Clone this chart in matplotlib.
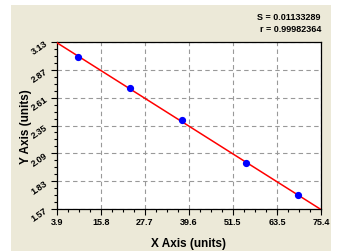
import numpy as np
import matplotlib
matplotlib.use("Agg")
import matplotlib.pyplot as plt
from matplotlib.patches import Rectangle
from matplotlib.ticker import AutoMinorLocator

x_vals = [9.5, 23.7, 37.9, 55.0, 69.3]
y_vals = [2.993, 2.698, 2.397, 1.996, 1.701]
x_ticks = [3.9, 15.8, 27.7, 39.6, 51.5, 63.5, 75.4]
y_ticks = [1.57, 1.83, 2.09, 2.35, 2.61, 2.87, 3.13]
stat_lines = ["S = 0.01133289", "r = 0.99982364"]

plt.rcParams['font.family'] = ['Liberation Sans', 'DejaVu Sans']

fig = plt.figure(figsize=(3.53, 2.53), dpi=100)
fig.patch.set_facecolor('white')
fig.patches.append(Rectangle((0.031, 0.004), 0.907, 0.972, transform=fig.transFigure,
                             facecolor='#ECE9D8', edgecolor='none', zorder=-10))

ax = fig.add_axes([0.161, 0.170, 0.748, 0.660])
ax.set_facecolor('white')

coef = np.polyfit(x_vals, y_vals, 1)
xl = np.array([x_ticks[0], x_ticks[-1]])
ax.plot(xl, np.polyval(coef, xl), color='#FF0000', lw=1.1, zorder=3)
ax.plot(x_vals, y_vals, 'o', color='#0000FF', ms=4.2, zorder=4)

ax.set_xlim(x_ticks[0], x_ticks[-1])
ax.set_ylim(y_ticks[0], y_ticks[-1])
ax.set_xticks(x_ticks)
ax.set_yticks(y_ticks)
ax.set_xticklabels([f"{t:.1f}" for t in x_ticks], fontsize=6.5, fontweight='bold')
ax.set_yticklabels([f"{t:.2f}" for t in y_ticks], fontsize=6.5, fontweight='bold', rotation=35)
ax.xaxis.set_minor_locator(AutoMinorLocator(4))
ax.yaxis.set_minor_locator(AutoMinorLocator(4))
ax.tick_params(which='major', direction='out', length=4, width=0.8, pad=1.5)
ax.tick_params(which='minor', direction='out', length=2.5, width=0.8)
ax.grid(True, which='major', linestyle=(0, (4, 3)), color='#999999', lw=0.8)
for s in ax.spines.values():
    s.set_linewidth(0.9)

ax.set_xlabel("X Axis (units)", fontsize=8.5, fontweight='bold', labelpad=8)
ax.set_ylabel("Y Axis (units)", fontsize=8.5, fontweight='bold')
ax.yaxis.set_label_coords(-0.095, 0.5)

fig.text(0.909, 0.93, stat_lines[0], ha='right', va='center', fontsize=6.5, fontweight='bold')
fig.text(0.909, 0.885, stat_lines[1], ha='right', va='center', fontsize=6.5, fontweight='bold')

fig.savefig("out.png", dpi=100)
